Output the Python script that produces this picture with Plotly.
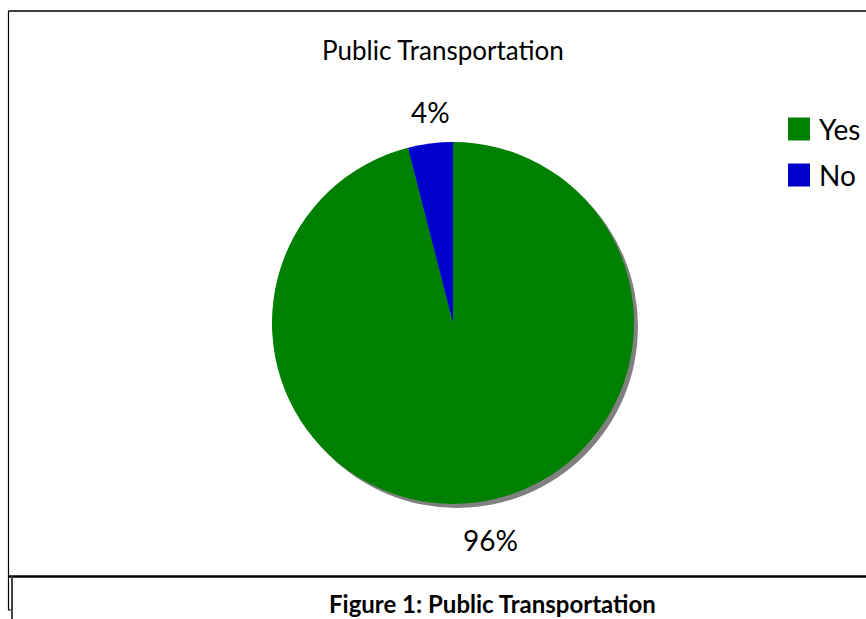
import plotly.graph_objects as go

labels = ["Yes", "No"]
values = [96, 4]
colors = ["#008000", "#0000CC"]
title_text = "Public Transportation"
caption_text = "Figure 1: Public Transportation"

W, H = 866, 619
cx, cy, r = 453, 323, 181
sh = 4  # shadow offset px

def dom(cxp, cyp):
    return dict(x=[(cxp - r) / W, (cxp + r) / W],
                y=[(H - cyp - r) / H, (H - cyp + r) / H])

fig = go.Figure()
# shadow
fig.add_trace(go.Pie(values=[sum(values)], marker=dict(colors=["#808080"], line=dict(width=0)),
                     textinfo="none", hoverinfo="skip", showlegend=False, sort=False,
                     domain=dom(cx + sh, cy + sh)))
fig.add_trace(go.Pie(labels=labels, values=values, marker=dict(colors=colors, line=dict(width=0)),
                     textinfo="none", sort=False, direction="clockwise", rotation=0,
                     showlegend=False, domain=dom(cx, cy)))

total = sum(values)
pct = [f"{round(v / total * 100)}%" for v in values]

annotations = []
lbl_pos = [(490, 540), (430, 112)]
for t, (x, y) in zip(pct, lbl_pos):
    annotations.append(dict(x=x / W, y=1 - y / H, xref="paper", yref="paper", text=t,
                            showarrow=False, font=dict(family="Lato", size=28, color="#000000"),
                            xanchor="center", yanchor="middle"))
annotations.append(dict(x=443 / W, y=1 - 50 / H, xref="paper", yref="paper", text=title_text,
                        showarrow=False, font=dict(family="Lato", size=26, color="#000000"),
                        xanchor="center", yanchor="middle"))
annotations.append(dict(x=492 / W, y=1 - 603 / H, xref="paper", yref="paper",
                        text=f"<b>{caption_text}</b>", showarrow=False,
                        font=dict(family="Lato", size=24, color="#000000"),
                        xanchor="center", yanchor="middle"))

shapes = []
leg_y = [129, 175]
for lab, col, y in zip(labels, colors, leg_y):
    shapes.append(dict(type="rect", xref="paper", yref="paper", x0=788 / W, x1=810 / W,
                       y0=1 - (y + 11.5) / H, y1=1 - (y - 11.5) / H,
                       fillcolor=col, line=dict(width=0)))
    annotations.append(dict(x=817 / W, y=1 - y / H, xref="paper", yref="paper", text=lab,
                            showarrow=False, font=dict(family="Lato", size=28, color="#000000"),
                            xanchor="left", yanchor="middle"))

def line(x0, y0, x1, y1, w, c):
    shapes.append(dict(type="line", xref="paper", yref="paper", x0=x0 / W, x1=x1 / W,
                       y0=1 - y0 / H, y1=1 - y1 / H, line=dict(width=w, color=c)))

line(8.5, 11, 866, 11, 1.5, "#000000")
line(8.5, 11, 8.5, 610, 1.2, "#000000")
line(8, 610, 12, 610, 1, "#000000")
line(8, 576.5, 866, 576.5, 2.5, "#000000")
line(12, 576, 12, 619, 2, "#444444")

fig.update_layout(width=W, height=H, margin=dict(l=0, r=0, t=0, b=0),
                  paper_bgcolor="white", plot_bgcolor="white",
                  annotations=annotations, shapes=shapes)
fig.write_html("out.html", config={"displayModeBar": False},
               post_script="document.body.style.margin='0';document.body.style.overflow='hidden';")
